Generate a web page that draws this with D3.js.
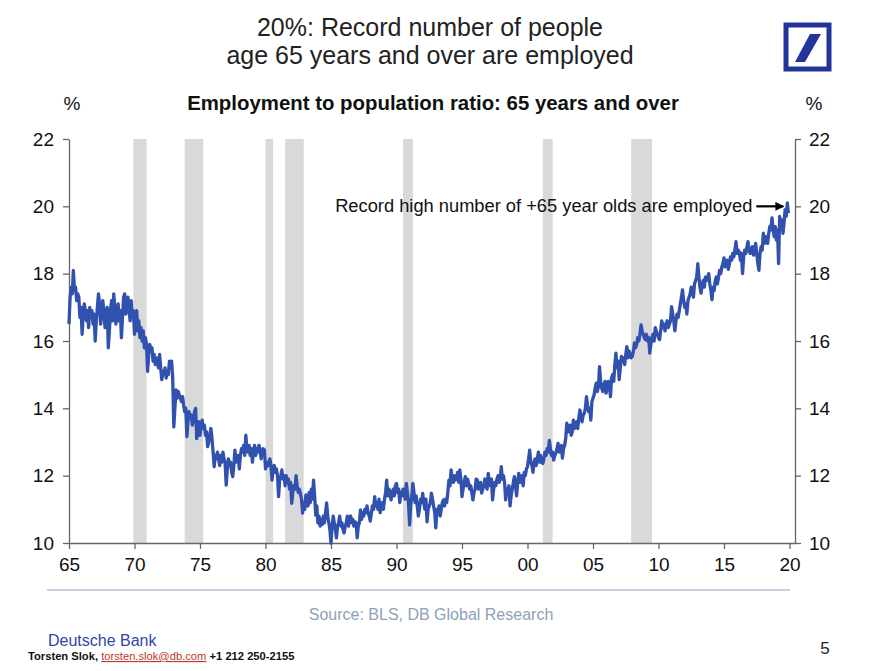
<!DOCTYPE html>
<html>
<head>
<meta charset="utf-8">
<script src="https://cdn.jsdelivr.net/npm/d3@7"></script>
<style>
  body { margin: 0; background: #fff; }
  svg { display: block; font-family: "Liberation Sans", Arial, sans-serif; }
  .axis path, .axis line { stroke: #666; stroke-width: 1.3; }
  .axis text { font-size: 19px; fill: #111; font-family: "Liberation Sans", Arial, sans-serif; }
</style>
</head>
<body>
<svg id="chart" width="875" height="671"></svg>
<script>
// monthly series, Jan 1965 onwards (one row per year)
var startYear = 1965;
var ratio = [
  16.5, 17.3, 17.6, 17.4, 18.1, 17.5, 17.6, 17.2, 17.4, 17.3, 16.7, 17.0, // 1965
  16.2, 16.8, 17.1, 16.9, 16.6, 16.9, 16.4, 17.0, 16.7, 16.9, 16.5, 16.8,
  16.0, 16.6, 17.0, 17.4, 17.1, 16.5, 16.9, 17.2, 16.8, 16.4, 16.9, 17.0,
  15.8, 16.3, 16.9, 17.2, 16.6, 17.4, 17.0, 16.5, 16.9, 17.1, 16.6, 16.9,
  16.1, 16.7, 17.3, 17.4, 16.8, 17.0, 17.3, 16.9, 16.6, 17.2, 16.7, 16.9,
  16.2, 16.5, 16.9, 16.3, 16.6, 16.1, 16.4, 16.0, 16.3, 15.8, 16.1, 15.9, // 1970
  15.1, 15.6, 15.9, 15.7, 15.8, 15.4, 15.6, 15.3, 15.5, 15.4, 15.2, 15.6,
  15.2, 14.85, 15.1, 15.0, 15.2, 14.9, 15.1, 15.0, 15.4, 15.2, 15.4, 14.9,
  13.45, 14.0, 14.55, 14.3, 14.5, 14.4, 14.3, 14.2, 14.35, 14.1, 13.9, 14.0,
  13.16, 13.6, 13.9, 13.7, 13.8, 13.5, 13.7, 13.9, 14.0, 13.1, 13.5, 13.6,
  13.2, 13.5, 13.65, 13.4, 13.5, 13.2, 13.3, 12.86, 13.0, 13.2, 13.4, 13.1, // 1975
  12.7, 12.27, 12.6, 12.5, 12.7, 12.5, 12.3, 12.6, 12.4, 12.7, 12.5, 12.4,
  11.72, 12.2, 12.5, 12.3, 12.4, 12.1, 11.97, 12.3, 12.76, 12.4, 12.5, 12.6,
  12.2, 12.6, 12.8, 12.7, 12.9, 12.6, 13.2, 12.8, 12.7, 12.9, 12.6, 12.8,
  12.4, 12.7, 12.9, 12.6, 12.8, 12.7, 12.9, 12.8, 12.5, 12.7, 12.8, 12.76,
  12.2, 12.3, 12.4, 12.3, 12.5, 12.3, 11.87, 12.2, 12.3, 12.1, 12.2, 12.0, // 1980
  11.38, 11.9, 12.0, 12.17, 11.9, 12.0, 11.7, 12.0, 11.8, 11.9, 11.6, 11.8,
  11.18, 11.5, 11.7, 11.6, 12.0, 11.7, 11.5, 11.6, 11.48, 11.3, 10.89, 11.2,
  11.0, 11.43, 11.3, 11.1, 11.5, 11.2, 11.6, 11.3, 11.87, 11.4, 10.83, 11.1,
  10.6, 10.8, 10.5, 10.7, 10.55, 10.8, 10.6, 10.9, 11.19, 10.8, 10.6, 10.4,
  10.0, 10.5, 10.8, 10.6, 10.4, 10.15, 10.5, 10.6, 10.8, 10.5, 10.6, 10.4, // 1985
  10.3, 10.5, 10.6, 10.8, 10.5, 10.7, 10.8, 10.6, 10.7, 10.5, 10.63, 10.6,
  10.15, 10.5, 10.6, 10.98, 10.7, 10.9, 10.8, 11.0, 10.9, 11.1, 10.9, 10.8,
  10.65, 10.9, 11.1, 11.0, 11.38, 11.1, 11.2, 11.0, 11.3, 10.9, 11.1, 11.2,
  11.0, 11.3, 11.5, 11.87, 11.4, 11.6, 11.5, 11.28, 11.5, 11.6, 11.4, 11.7,
  11.77, 11.5, 11.6, 11.2, 11.5, 11.4, 11.6, 11.5, 11.3, 11.77, 11.5, 11.2, // 1990
  10.54, 11.1, 11.4, 11.77, 11.5, 11.2, 11.4, 11.1, 10.8, 11.0, 11.3, 11.2,
  11.47, 11.2, 11.0, 11.3, 10.63, 11.0, 11.1, 11.2, 11.48, 11.3, 11.1, 10.9,
  10.45, 11.0, 10.9, 11.1, 10.8, 11.0, 11.2, 11.28, 11.1, 11.3, 11.2, 11.5,
  11.87, 11.7, 12.17, 11.9, 11.8, 12.0, 11.87, 11.9, 12.1, 11.8, 12.17, 11.9,
  11.38, 11.6, 11.8, 11.97, 11.7, 11.9, 11.8, 11.6, 11.7, 11.5, 11.28, 11.5, // 1995
  11.6, 11.9, 11.87, 11.6, 11.7, 11.8, 11.48, 11.6, 11.7, 11.9, 11.8, 11.6,
  12.07, 11.8, 11.7, 11.9, 11.28, 11.6, 11.8, 11.7, 11.9, 12.0, 11.8, 11.9,
  12.27, 11.9, 12.0, 11.8, 11.28, 11.6, 11.5, 11.7, 11.1, 11.4, 11.6, 11.8,
  11.97, 11.7, 11.4, 11.8, 12.07, 11.8, 11.9, 12.0, 11.7, 12.1, 12.0, 12.2,
  12.27, 12.5, 12.76, 12.4, 12.3, 12.1, 12.4, 12.5, 12.3, 12.5, 12.7, 12.4, // 2000
  12.6, 12.4, 12.36, 12.5, 12.7, 12.6, 12.8, 12.7, 13.05, 12.8, 12.6, 12.7,
  12.46, 12.6, 12.67, 12.8, 12.96, 12.7, 12.85, 12.9, 12.52, 12.8, 12.9, 13.1,
  13.56, 13.3, 13.4, 13.5, 13.2, 13.3, 13.65, 13.4, 13.5, 13.6, 13.4, 13.7,
  13.95, 13.8, 13.6, 13.8, 13.85, 14.0, 14.35, 14.1, 13.9, 14.0, 13.65, 14.2,
  14.3, 14.4, 14.6, 14.75, 14.5, 14.65, 15.24, 14.8, 14.6, 14.5, 14.7, 14.8, // 2005
  14.45, 14.6, 14.8, 14.7, 14.35, 14.9, 15.0, 14.8, 15.3, 15.64, 15.2, 15.4,
  14.85, 15.2, 15.54, 15.4, 15.5, 15.3, 15.6, 15.83, 15.5, 15.7, 15.6, 15.5,
  15.54, 15.7, 15.94, 15.8, 15.9, 16.1, 16.0, 16.2, 16.48, 16.3, 16.2, 16.1,
  16.04, 16.2, 16.0, 16.1, 15.64, 15.9, 16.1, 16.2, 16.0, 16.4, 16.3, 16.2,
  16.1, 16.04, 16.3, 16.6, 16.4, 16.5, 16.3, 16.5, 16.6, 16.4, 16.5, 16.6, // 2010
  17.02, 16.8, 16.6, 16.3, 16.6, 16.8, 16.7, 16.9, 17.1, 17.3, 17.52, 17.2,
  17.0, 17.1, 16.8, 17.2, 17.3, 17.4, 17.6, 17.5, 17.3, 17.7, 17.8, 17.9,
  18.3, 17.9, 17.6, 17.42, 17.7, 17.8, 17.6, 17.9, 17.8, 17.9, 18.0, 17.7,
  17.5, 17.22, 17.6, 17.5, 17.8, 17.9, 17.7, 17.9, 18.1, 18.0, 18.2, 18.3,
  18.47, 18.2, 18.3, 18.4, 18.13, 18.3, 18.5, 18.4, 18.6, 18.5, 18.7, 18.95, // 2015
  18.6, 18.7, 18.65, 18.4, 18.6, 18.0, 18.5, 18.7, 18.6, 18.8, 18.95, 18.7,
  18.6, 18.7, 18.8, 18.55, 18.7, 18.9, 18.6, 18.3, 18.1, 18.6, 18.8, 18.7,
  19.2, 18.9, 19.1, 19.0, 18.9, 19.2, 19.4, 19.3, 19.66, 19.3, 19.1, 19.4,
  19.0, 19.3, 18.3, 19.7, 19.4, 19.6, 19.2, 19.5, 19.9, 19.7, 20.1, 19.8  // 2019
];

// NBER recessions: [start year, start month, end year, end month]
var recessions = [
  [1969, 12, 1970, 11],
  [1973, 11, 1975, 3],
  [1980, 1, 1980, 7],
  [1981, 7, 1982, 11],
  [1990, 7, 1991, 3],
  [2001, 3, 2001, 11],
  [2007, 12, 2009, 6]
];

var xTicks = [1965, 1970, 1975, 1980, 1985, 1990, 1995, 2000, 2005, 2010, 2015, 2020];
var yTicks = [10, 12, 14, 16, 18, 20, 22];

var svg = d3.select("#chart");

var x = d3.scaleLinear().domain([1965, 2020.42]).range([69, 795]);
var y = d3.scaleLinear().domain([10, 22]).range([543, 139]);

var series = ratio.map(function (v, i) { return { t: startYear + i / 12, v: v }; });

// recession shading
svg.append("g").selectAll("rect")
  .data(recessions)
  .enter().append("rect")
  .attr("x", function (d) { return x(d[0] + (d[1] - 1) / 12); })
  .attr("width", function (d) { return x(d[2] + d[3] / 12) - x(d[0] + (d[1] - 1) / 12); })
  .attr("y", y(22))
  .attr("height", y(10) - y(22))
  .attr("fill", "#d9d9d9");

// axes
svg.append("g")
  .attr("class", "axis")
  .attr("transform", "translate(" + x.range()[0] + ",0)")
  .call(d3.axisLeft(y).tickValues(yTicks).tickSize(6).tickSizeOuter(0).tickPadding(9));

svg.append("g")
  .attr("class", "axis")
  .attr("transform", "translate(" + x.range()[1] + ",0)")
  .call(d3.axisRight(y).tickValues(yTicks).tickSize(6).tickSizeOuter(0).tickPadding(8));

svg.append("g")
  .attr("class", "axis")
  .attr("transform", "translate(0," + y.range()[0] + ")")
  .call(d3.axisBottom(x).tickValues(xTicks).tickSize(6).tickSizeOuter(0).tickPadding(9)
    .tickFormat(function (d) { return String(d % 100).padStart(2, "0"); }));

// the series
var line = d3.line()
  .x(function (d) { return x(d.t); })
  .y(function (d) { return y(d.v); });

svg.append("path")
  .datum(series)
  .attr("d", line)
  .attr("fill", "none")
  .attr("stroke", "#3151ae")
  .attr("stroke-width", 3.3)
  .attr("stroke-linejoin", "round");

// annotation with arrow
svg.append("defs").append("marker")
  .attr("id", "arrow")
  .attr("viewBox", "0 0 10 10")
  .attr("refX", 9).attr("refY", 5)
  .attr("markerWidth", 4).attr("markerHeight", 4)
  .attr("orient", "auto")
  .append("path").attr("d", "M0,0L10,5L0,10z").attr("fill", "#000");

var peak = series[series.length - 2];
svg.append("line")
  .attr("x1", x(peak.t) - 31).attr("x2", x(peak.t) - 4)
  .attr("y1", y(20)).attr("y2", y(20))
  .attr("stroke", "#000").attr("stroke-width", 2.2)
  .attr("marker-end", "url(#arrow)");

svg.append("text")
  .attr("x", x(peak.t) - 35).attr("y", y(20) + 6)
  .attr("text-anchor", "end")
  .attr("font-size", "18.3px")
  .attr("fill", "#111")
  .text("Record high number of +65 year olds are employed");

// titles
svg.append("text")
  .attr("x", 430).attr("y", 36)
  .attr("text-anchor", "middle").attr("font-size", "25px").attr("fill", "#222")
  .text("20%: Record number of people");
svg.append("text")
  .attr("x", 430).attr("y", 64)
  .attr("text-anchor", "middle").attr("font-size", "25px").attr("fill", "#222")
  .text("age 65 years and over are employed");

svg.append("text")
  .attr("x", 433).attr("y", 110)
  .attr("text-anchor", "middle").attr("font-size", "20.4px").attr("font-weight", "bold").attr("fill", "#111")
  .text("Employment to population ratio: 65 years and over");

svg.append("text")
  .attr("x", 72).attr("y", 110)
  .attr("text-anchor", "middle").attr("font-size", "19px").attr("fill", "#111")
  .text("%");
svg.append("text")
  .attr("x", 814).attr("y", 110)
  .attr("text-anchor", "middle").attr("font-size", "19px").attr("fill", "#111")
  .text("%");

// logo
var logo = svg.append("g");
logo.append("rect")
  .attr("x", 786).attr("y", 25).attr("width", 43).attr("height", 44)
  .attr("fill", "none").attr("stroke", "#22339c").attr("stroke-width", 5);
logo.append("polygon")
  .attr("points", "810,34 821,34 805,62 795,62")
  .attr("fill", "#22339c");

// footer
svg.append("line")
  .attr("x1", 47).attr("x2", 790).attr("y1", 590).attr("y2", 590)
  .attr("stroke", "#b4c2d3").attr("stroke-width", 1.5);

svg.append("text")
  .attr("x", 431).attr("y", 620)
  .attr("text-anchor", "middle").attr("font-size", "16px").attr("fill", "#8ea1b7")
  .text("Source: BLS, DB Global Research");

svg.append("text")
  .attr("x", 48).attr("y", 646)
  .attr("font-size", "16px").attr("fill", "#3344aa")
  .text("Deutsche Bank");

var credit = svg.append("text")
  .attr("x", 28).attr("y", 660)
  .attr("font-size", "11.2px").attr("font-weight", "bold").attr("fill", "#111");
credit.append("tspan").text("Torsten Slok, ");
credit.append("tspan").attr("fill", "#c0392b").attr("text-decoration", "underline").attr("font-weight", "normal").text("torsten.slok@db.com");
credit.append("tspan").text("  +1 212 250-2155");

svg.append("text")
  .attr("x", 825).attr("y", 654)
  .attr("text-anchor", "middle").attr("font-size", "17px").attr("fill", "#222")
  .text("5");
</script>
</body>
</html>
